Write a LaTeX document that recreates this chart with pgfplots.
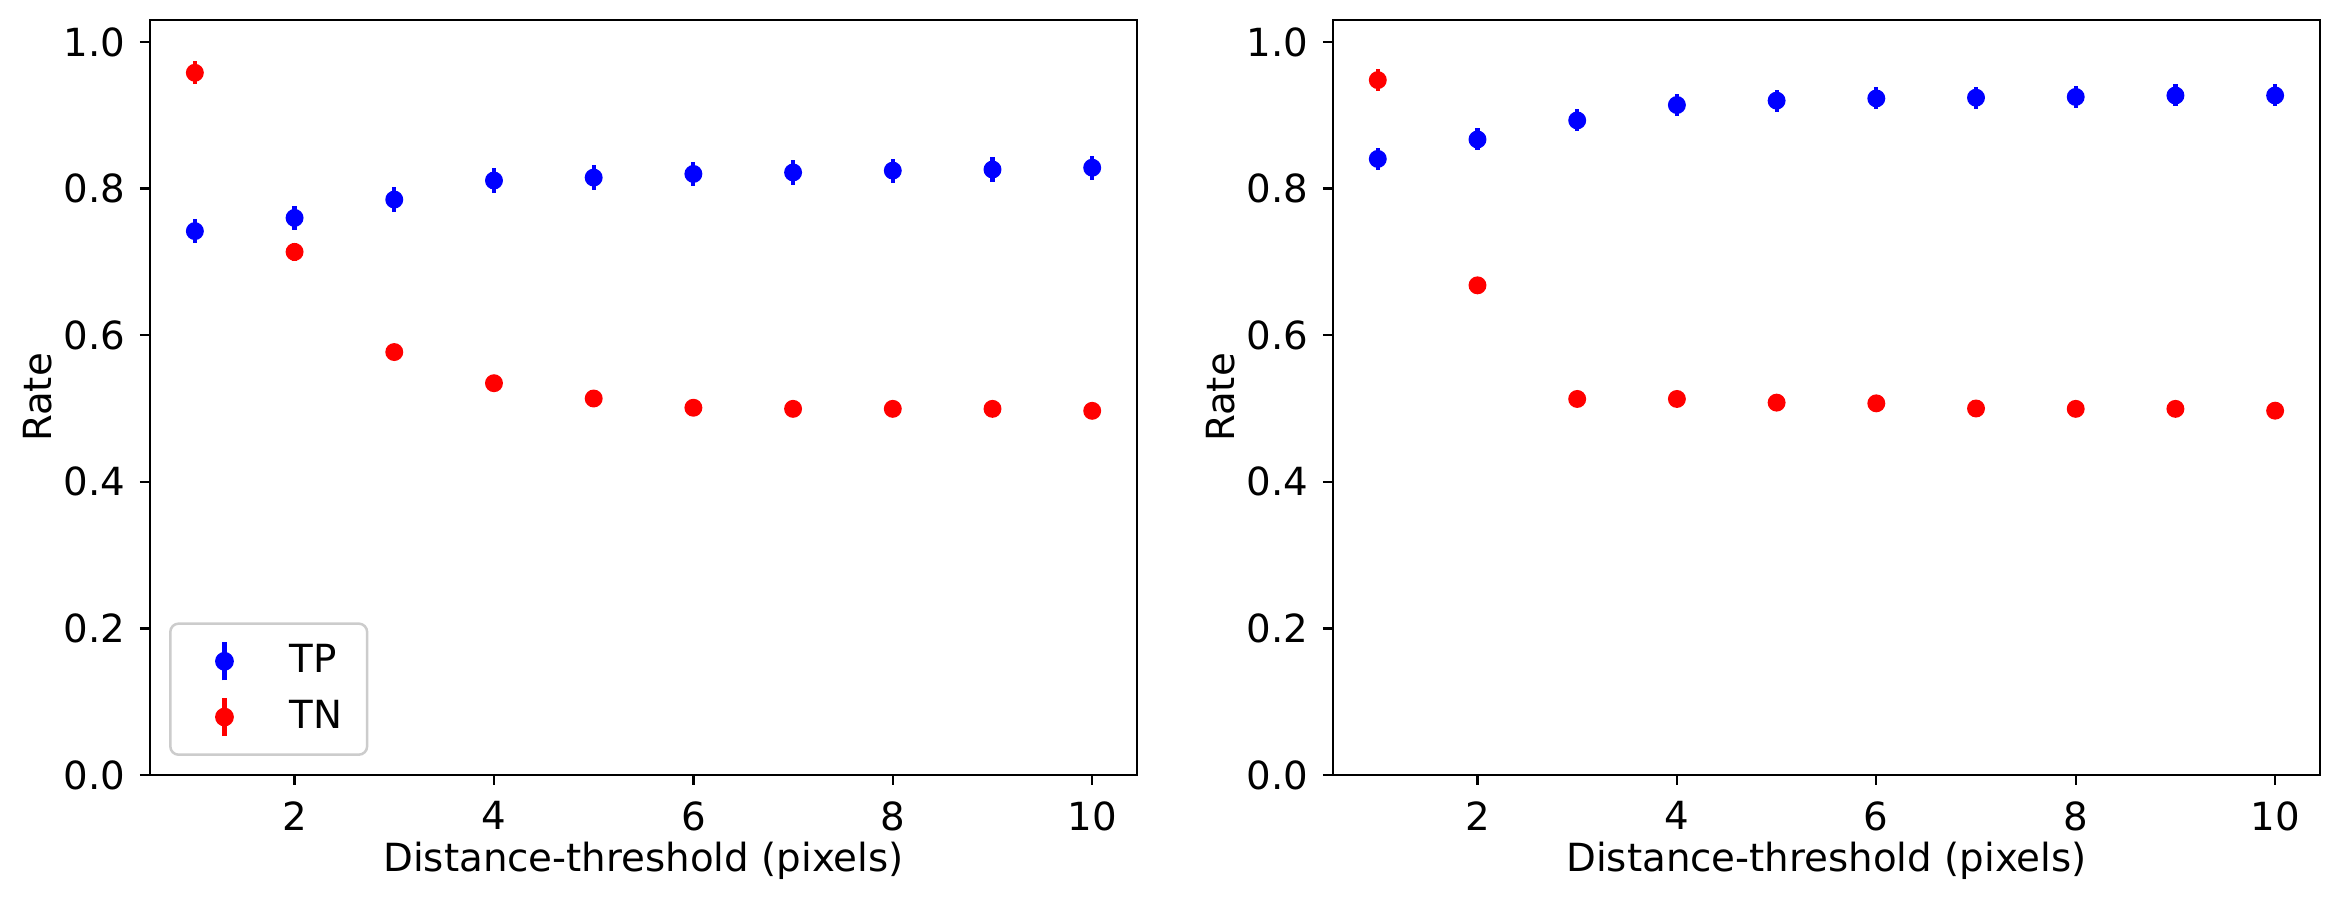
\documentclass[border=0pt]{standalone}
\usepackage{fontspec}
\setmainfont{DejaVu Sans}
\usepackage{pgfplots}
\pgfplotsset{compat=1.18}
\definecolor{mblue}{RGB}{0,0,255}
\definecolor{mred}{RGB}{255,0,0}
\newcommand{\ff}{\fontsize{9.3pt}{11pt}\selectfont}
\pgfplotsset{
  myaxis/.style={
    scale only axis,
    width=236.9pt, height=181.2pt,
    xmin=0.55, xmax=10.45, ymin=0, ymax=1.03,
    xtick={2,4,6,8,10},
    ytick={0,0.2,0.4,0.6,0.8,1.0},
    yticklabel style={/pgf/number format/.cd,fixed,fixed zerofill,precision=1},
    /pgf/number format/assume math mode=true,
    tick align=outside, tick pos=left,
    major tick length=2.4pt,
    axis line style={line width=0.55pt},
    every tick/.style={black, line width=0.55pt},
    tick label style={font=\ff},
    label style={font=\ff},
    xticklabel style={yshift=-0.4pt},
    xlabel={Distance-threshold (pixels)},
    ylabel={Rate},
    xlabel style={at={(axis description cs:0.5,-0.114)}, anchor=center},
    ylabel style={at={(axis description cs:-0.114,0.5)}, anchor=center},
    error bars/y dir=both, error bars/y explicit,
    error bars/error mark=none,
    error bars/error bar style={line width=1pt},
  },
  ser/.style={only marks, mark=*, mark size=1.95pt, color=#1,
    mark options={draw=#1, fill=#1},
    error bars/error bar style={line width=1pt, #1}},
}
\pgfplotstableread{
x y e
1 0.742 0.0165
2 0.760 0.0165
3 0.785 0.0165
4 0.811 0.0165
5 0.815 0.0165
6 0.820 0.0165
7 0.822 0.0165
8 0.8245 0.0165
9 0.826 0.0165
10 0.8285 0.0165
}\leftTP
\pgfplotstableread{
x y e
1 0.958 0.0157
2 0.7136 0.012
3 0.577 0.006
4 0.5345 0.005
5 0.5136 0.005
6 0.501 0.005
7 0.4995 0.005
8 0.4995 0.005
9 0.4995 0.005
10 0.4968 0.005
}\leftTN
\pgfplotstableread{
x y e
1 0.8405 0.0145
2 0.867 0.015
3 0.893 0.015
4 0.914 0.015
5 0.920 0.015
6 0.923 0.015
7 0.924 0.015
8 0.925 0.015
9 0.927 0.015
10 0.927 0.015
}\rightTP
\pgfplotstableread{
x y e
1 0.948 0.015
2 0.668 0.007
3 0.513 0.005
4 0.513 0.005
5 0.508 0.005
6 0.507 0.005
7 0.500 0.005
8 0.4995 0.005
9 0.4995 0.005
10 0.497 0.005
}\rightTN
\begin{document}
\begin{tikzpicture}
\useasboundingbox (0,0) rectangle (561.84pt,216.24pt);
\begin{axis}[myaxis, at={(36pt,30.24pt)}, anchor=south west,
  legend style={at={(0.0193,0.0252)}, anchor=south west,
    draw=black!20, line width=0.6pt, rounded corners=2pt,
    font=\ff, inner xsep=4pt, inner ysep=2.9pt,
    row sep=1.1pt, column sep=4.6pt,
    nodes={inner sep=2pt, anchor=west}},
  legend cell align=left,
  legend image code/.code={
    \path[draw=none] (-9pt,0) -- (9pt,0);
    \draw[line width=1pt] (0,-4.6pt) -- (0,4.6pt);
    \fill (0,0) circle (1.95pt);
  }]
\addplot+[ser=mblue] table[x=x,y=y,y error=e] {\leftTP};
\addlegendentry{TP}
\addplot+[ser=mred] table[x=x,y=y,y error=e] {\leftTN};
\addlegendentry{TN}
\end{axis}
\begin{axis}[myaxis, at={(319.9pt,30.24pt)}, anchor=south west]
\addplot+[ser=mblue] table[x=x,y=y,y error=e] {\rightTP};
\addplot+[ser=mred] table[x=x,y=y,y error=e] {\rightTN};
\end{axis}
\end{tikzpicture}
\end{document}
